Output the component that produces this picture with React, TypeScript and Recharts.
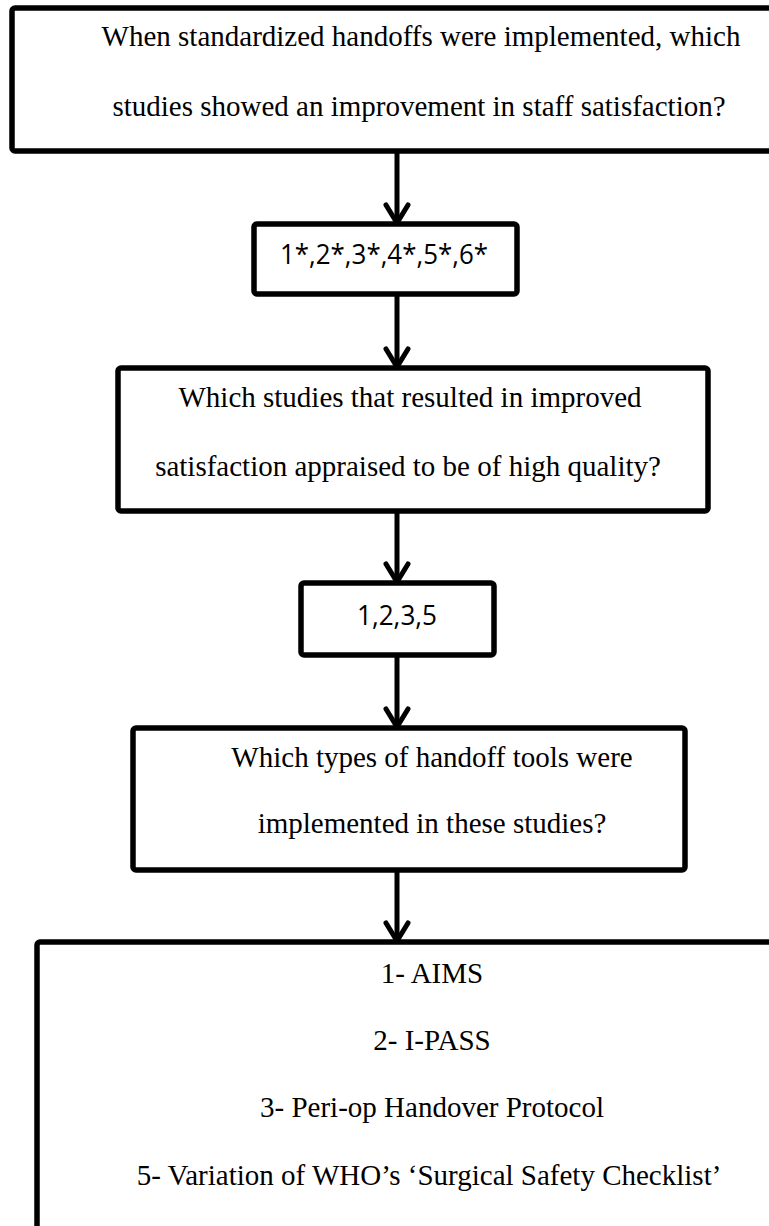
import { ComposedChart, XAxis, YAxis, ReferenceArea, ReferenceLine, Scatter } from 'recharts'

// flowchart text, top to bottom
const questionOne = [
  'When standardized handoffs were implemented, which',
  'studies showed an improvement in staff satisfaction?',
]
const allStudies = ['1*,2*,3*,4*,5*,6*']
const questionTwo = ['Which studies that resulted in improved', 'satisfaction appraised to be of high quality?']
const highQualityStudies = ['1,2,3,5']
const questionThree = ['Which types of handoff tools were', 'implemented in these studies?']
const handoffTools = [
  '1- AIMS',
  '2- I-PASS',
  '3- Peri-op Handover Protocol',
  '5- Variation of WHO\u2019s \u2018Surgical Safety Checklist\u2019',
]

const W = 769
const H = 1226
const ARROW_X = 397
const SERIF = '"Liberation Serif", "Times New Roman", serif'
const SANS = '"Open Sans", "Noto Sans", sans-serif'

// box outlines (stroke centre), in page pixels
const boxes = [
  { x1: 12, x2: 820, y1: 8, y2: 151 },
  { x1: 254, x2: 517, y1: 224, y2: 294 },
  { x1: 118, x2: 708, y1: 368, y2: 511 },
  { x1: 301, x2: 494, y1: 583, y2: 655 },
  { x1: 133, x2: 685, y1: 728, y2: 870 },
  { x1: 37, x2: 830, y1: 942, y2: 1300 },
]

// where each block of text sits (fit = drawn width for the sans labels)
const textBlocks = [
  { lines: questionOne, xs: [421, 419], ys: [36, 106], family: SERIF, size: 29, fit: 0 },
  { lines: allStudies, xs: [384], ys: [254], family: SANS, size: 28, fit: 208 },
  { lines: questionTwo, xs: [410, 408], ys: [397, 466], family: SERIF, size: 29, fit: 0 },
  { lines: highQualityStudies, xs: [397], ys: [615], family: SANS, size: 28, fit: 80 },
  { lines: questionThree, xs: [432, 432], ys: [757, 823], family: SERIF, size: 29, fit: 0 },
  { lines: handoffTools, xs: [432, 432, 432, 429], ys: [973, 1040, 1107, 1175], family: SERIF, size: 29, fit: 0 },
]

const textRows = textBlocks.flatMap((b) =>
  b.lines.map((text, i) => ({ x: b.xs[i], y: b.ys[i], text, family: b.family, size: b.size, fit: b.fit }))
)

// arrows go from the bottom of one box to the top of the next
const arrows = boxes.slice(0, -1).map((b, i) => ({ from: b.y2, to: boxes[i + 1].y1 }))

const TextMark = (props: any) => {
  const { cx, cy, payload } = props
  const fitProps = payload.fit ? { textLength: payload.fit, lengthAdjust: 'spacingAndGlyphs' } : {}
  return (
    <text
      x={cx}
      y={cy}
      dy={payload.size * 0.35}
      textAnchor="middle"
      fontFamily={payload.family}
      fontSize={payload.size}
      fill="#000"
      {...fitProps}
    >
      {payload.text}
    </text>
  )
}

export default function App() {
  return (
    <div style={{ position: 'absolute', left: 0, top: 0, width: W, height: H, background: '#fff' }}>
      <ComposedChart width={W} height={H} data={textRows} margin={{ top: 0, right: 0, bottom: 0, left: 0 }}>
        <XAxis type="number" dataKey="x" domain={[0, W]} allowDataOverflow hide />
        <YAxis type="number" dataKey="y" domain={[0, H]} allowDataOverflow reversed hide />
        {boxes.map((b, i) => (
          <ReferenceArea
            key={`box-${i}`}
            x1={b.x1}
            x2={b.x2}
            y1={b.y1}
            y2={b.y2}
            ifOverflow="visible"
            fill="#fff"
            fillOpacity={1}
            stroke="#000"
            strokeWidth={5.5}
            radius={3}
          />
        ))}
        {arrows.map((a, i) => (
          <ReferenceLine
            key={`shaft-${i}`}
            segment={[{ x: ARROW_X, y: a.from }, { x: ARROW_X, y: a.to }]}
            stroke="#000"
            strokeWidth={5}
            ifOverflow="visible"
          />
        ))}
        {arrows.map((a, i) => (
          <ReferenceLine
            key={`left-${i}`}
            segment={[{ x: ARROW_X - 11, y: a.to - 19 }, { x: ARROW_X, y: a.to - 1 }]}
            stroke="#000"
            strokeWidth={5}
            strokeLinecap="round"
            ifOverflow="visible"
          />
        ))}
        {arrows.map((a, i) => (
          <ReferenceLine
            key={`right-${i}`}
            segment={[{ x: ARROW_X + 11, y: a.to - 19 }, { x: ARROW_X, y: a.to - 1 }]}
            stroke="#000"
            strokeWidth={5}
            strokeLinecap="round"
            ifOverflow="visible"
          />
        ))}
        <Scatter dataKey="y" data={textRows} shape={TextMark} isAnimationActive={false} />
      </ComposedChart>
    </div>
  )
}
